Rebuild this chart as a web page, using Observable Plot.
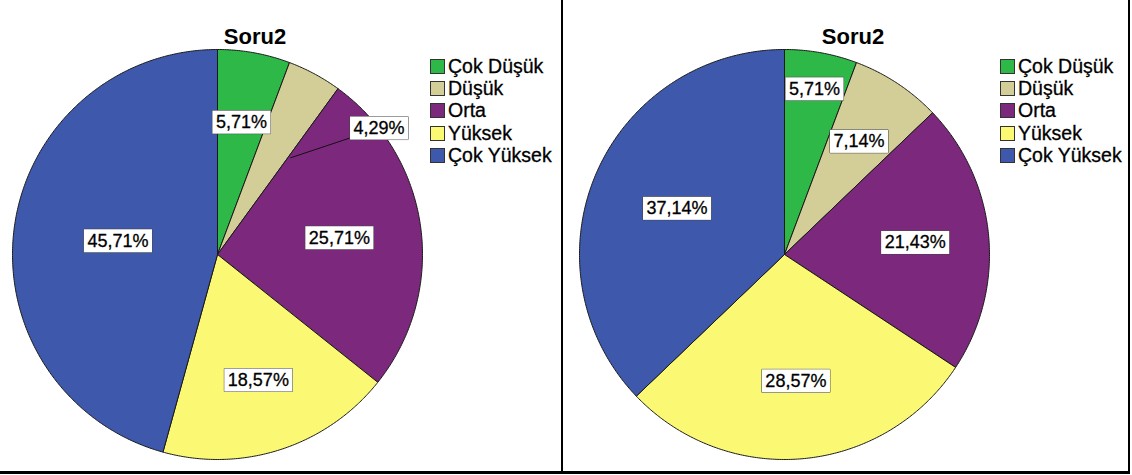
<!DOCTYPE html>
<html><head><meta charset="utf-8">
<script src="https://cdn.jsdelivr.net/npm/d3@7"></script>
<script src="https://cdn.jsdelivr.net/npm/@observablehq/plot@0.6"></script>
<style>
html,body{margin:0;padding:0;background:#fff;}
#root{position:relative;width:1132px;height:475px;overflow:hidden;font-family:Arial,"Liberation Sans",sans-serif;color:#000;}
.title{position:absolute;top:26px;font-weight:bold;font-size:22px;line-height:22px;transform:translateX(-50%);white-space:nowrap;}
.pie{position:absolute;}
.legend{position:absolute;font-size:19.5px;-webkit-text-stroke:0.3px #000;}
.legend .row{display:flex;align-items:center;height:22.3px;white-space:nowrap;}
.legend .sw{width:13px;height:13px;border:1px solid #333;margin-right:3px;flex:none;}
.rule{position:absolute;background:#000;}
</style></head><body><div id="root"></div>
<script>
// ---- data ----
const categories = ["Çok Düşük", "Düşük", "Orta", "Yüksek", "Çok Yüksek"];
const colors = ["#2eb848", "#d3ce97", "#7c287d", "#fbf873", "#3e58ac"];
const titleText = "Soru2";
const leftValues = [5.71, 4.29, 25.71, 18.57, 45.71];
const rightValues = [5.71, 7.14, 21.43, 28.57, 37.14];

// ---- layout (not data) ----
const R = 205; // pie radius in px
const panels = [
  {values: leftValues, cx: 217, cy: 254, titleX: 255, legendX: 430,
   labels: [{r: 0.655}, {r: 1.0, angle: 52, leader: {angle: 37, r: 0.59}}, {r: 0.6}, {r: 0.645}, {r: 0.49}]},
  {values: rightValues, cx: 784, cy: 254, titleX: 853, legendX: 1000,
   labels: [{r: 0.82}, {r: 0.66}, {r: 0.64}, {r: 0.62}, {r: 0.57}]}
];

const root = document.getElementById("root");
const fmt = v => v.toFixed(2).replace(".", ",") + "%";
const rad = d => d * Math.PI / 180;

function addDiv(cls, css, text) {
  const el = document.createElement("div");
  el.className = cls;
  Object.assign(el.style, css);
  if (text != null) el.textContent = text;
  root.appendChild(el);
  return el;
}

for (const p of panels) {
  const arcs = d3.pie().sort(null).value(d => d)(p.values);
  const pts = [];
  const labels = [];
  const leaders = [];
  arcs.forEach((a, i) => {
    const cat = categories[i];
    pts.push({cat, x: 0, y: 0});
    const n = Math.max(2, Math.ceil((a.endAngle - a.startAngle) / (Math.PI / 360)));
    for (let k = 0; k <= n; k++) {
      const t = a.startAngle + (a.endAngle - a.startAngle) * k / n;
      pts.push({cat, x: Math.sin(t), y: Math.cos(t)});
    }
    pts.push({cat, x: 0, y: 0});
    const L = p.labels[i];
    const mid = L.angle != null ? rad(L.angle) : (a.startAngle + a.endAngle) / 2;
    const lx = L.r * Math.sin(mid), ly = L.r * Math.cos(mid);
    labels.push({x: lx, y: ly, text: fmt(a.data)});
    if (L.leader) {
      const t = rad(L.leader.angle);
      leaders.push({x1: L.leader.r * Math.sin(t), y1: L.leader.r * Math.cos(t), x2: lx, y2: ly});
    }
  });

  const size = 2 * R + 10;
  const chart = Plot.plot({
    width: size, height: size, margin: 5,
    x: {domain: [-1, 1], axis: null},
    y: {domain: [-1, 1], axis: null},
    color: {domain: categories, range: colors},
    style: {overflow: "visible", background: "transparent", fontFamily: "Arial, 'Liberation Sans', sans-serif"},
    marks: [
      Plot.line(pts, {x: "x", y: "y", z: "cat", fill: "cat", stroke: "#1a1a1a", strokeWidth: 1, curve: "linear"}),
      Plot.link(leaders, {x1: "x1", y1: "y1", x2: "x2", y2: "y2", stroke: "#111", strokeWidth: 1}),
      Plot.text(labels, {x: "x", y: "y", text: "text", fontSize: 18, fill: "#000", stroke: "#000", strokeWidth: 0.3})
    ]
  });
  const wrap = addDiv("pie", {left: (p.cx - size / 2) + "px", top: (p.cy - size / 2) + "px"});
  wrap.appendChild(chart);

  // white label boxes behind the percentage texts
  chart.querySelectorAll('g[aria-label="text"] text').forEach(t => {
    const b = t.getBBox();
    const rect = document.createElementNS("http://www.w3.org/2000/svg", "rect");
    rect.setAttribute("x", b.x - 3.5);
    rect.setAttribute("y", b.y - 1.5);
    rect.setAttribute("width", b.width + 7);
    rect.setAttribute("height", b.height + 3);
    rect.setAttribute("fill", "#fff");
    rect.setAttribute("stroke", "#444");
    rect.setAttribute("stroke-width", "1");
    if (t.getAttribute("transform")) rect.setAttribute("transform", t.getAttribute("transform"));
    t.parentNode.insertBefore(rect, t);
  });

  addDiv("title", {left: p.titleX + "px"}, titleText);
  const leg = addDiv("legend", {left: p.legendX + "px", top: "55px"});
  categories.forEach((c, i) => {
    const row = document.createElement("div");
    row.className = "row";
    const sw = document.createElement("div");
    sw.className = "sw";
    sw.style.background = colors[i];
    const tx = document.createElement("span");
    tx.textContent = c;
    row.appendChild(sw); row.appendChild(tx);
    leg.appendChild(row);
  });
}

// panel borders
addDiv("rule", {left: "561px", top: "0px", width: "2px", height: "473px"});
addDiv("rule", {left: "1128px", top: "0px", width: "2px", height: "474px"});
addDiv("rule", {left: "0px", top: "471px", width: "1130px", height: "3px"});
</script></body></html>
